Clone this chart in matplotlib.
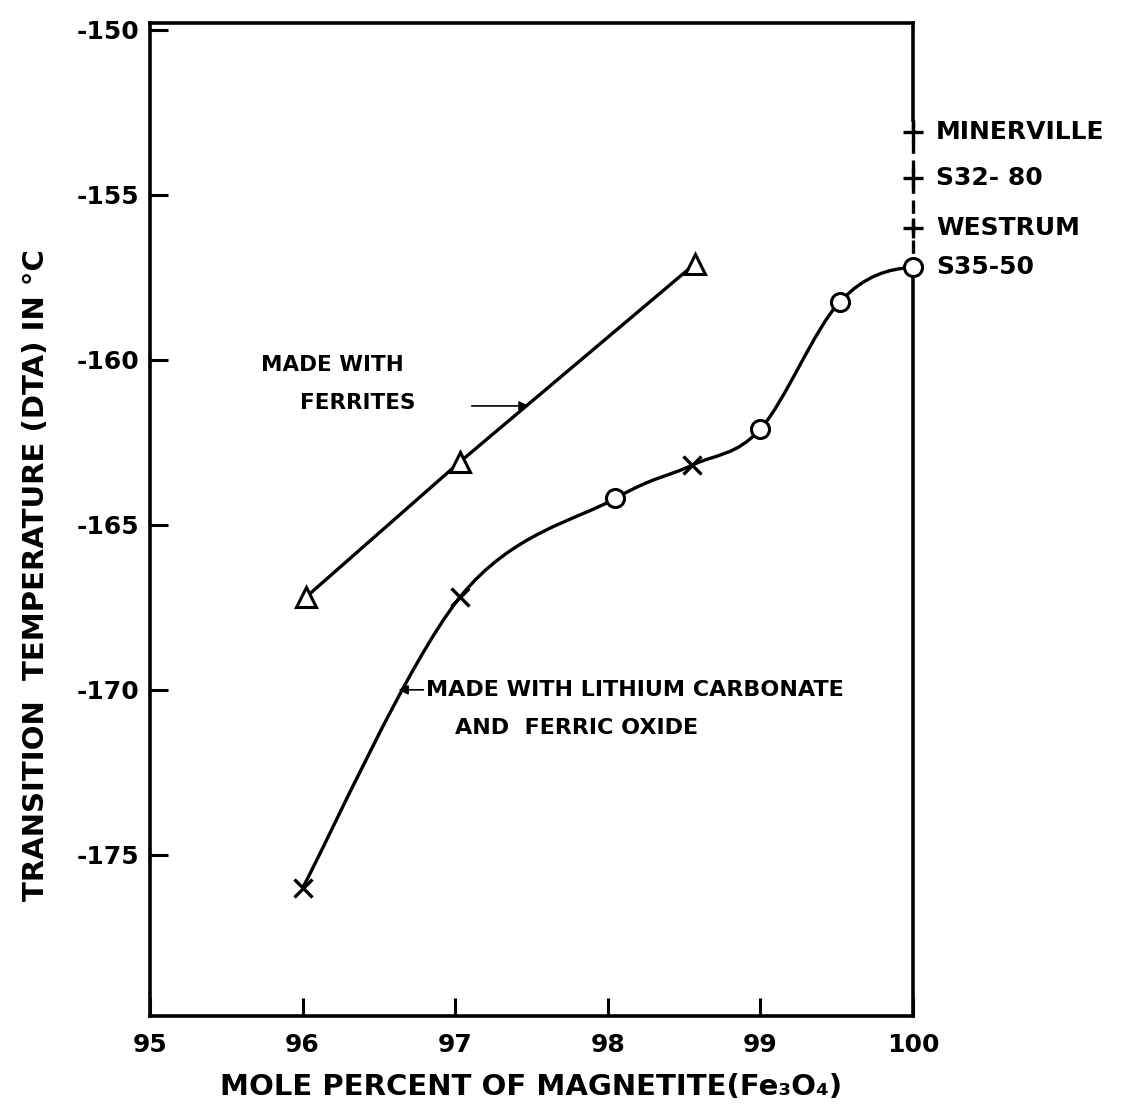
import numpy as np
import matplotlib
matplotlib.use('Agg')
import matplotlib.pyplot as plt
from matplotlib.path import Path
from matplotlib.patches import PathPatch

# data
ferr_x = [96.02, 97.03, 98.57]
ferr_y = [-167.2, -163.1, -157.1]

li_x_cross = [96.0, 97.03, 98.55]
li_y_cross = [-176.0, -167.2, -163.2]
li_x_circ = [98.05, 99.0, 99.52, 100.0]
li_y_circ = [-164.2, -162.1, -158.25, -157.2]

ref_names = ['MINERVILLE', 'S32- 80', 'WESTRUM']
ref_y = [-153.1, -154.5, -156.0]
s35_name = 'S35-50'

xticks = [95, 96, 97, 98, 99, 100]
yticks = [-150, -155, -160, -165, -170, -175]

plt.rcParams['font.family'] = 'DejaVu Sans'
plt.rcParams['font.weight'] = 'bold'
plt.rcParams['axes.labelweight'] = 'bold'

fig = plt.figure(figsize=(11.22, 11.15), dpi=100)
ax = fig.add_axes([0.1337, 0.0888, 0.68, 0.8906])
ax.set_xlim(95, 100)
ax.set_ylim(-179.88, -149.8)

# ferrites line
ax.plot(ferr_x, ferr_y, color='black', lw=2.4, zorder=2)
ax.plot(ferr_x, ferr_y, ls='none', marker='^', ms=15, mfc='white', mec='black', mew=2.2, zorder=3)

# smooth curve through crosses and circles (Catmull-Rom as bezier)
px = np.array(li_x_cross + li_x_circ)
py = np.array(li_y_cross + li_y_circ)
order = np.argsort(px)
pts = np.column_stack([px[order], py[order]])
verts = [pts[0]]
codes = [Path.MOVETO]
n = len(pts)
for i in range(n - 1):
    p0 = pts[max(i - 1, 0)]
    p1 = pts[i]
    p2 = pts[i + 1]
    p3 = pts[min(i + 2, n - 1)]
    c1 = p1 + (p2 - p0) / 6.0
    if i == n - 2:
        c2 = np.array([p2[0] - (p2[0] - p1[0]) / 3.0, p2[1] - 0.05])
    else:
        c2 = p2 - (p3 - p1) / 6.0
    verts += [c1, c2, p2]
    codes += [Path.CURVE4] * 3
ax.add_patch(PathPatch(Path(verts, codes), fill=False, lw=2.4, ec='black', zorder=2))
ax.plot(li_x_cross, li_y_cross, ls='none', marker='x', ms=13, mec='black', mew=2.4, zorder=3)
ax.plot(li_x_circ, li_y_circ, ls='none', marker='o', ms=13, mfc='white', mec='black', mew=2.2,
        zorder=4, clip_on=False)

# right spine: solid, dashed through the reference values, solid again
ax.spines['right'].set_visible(False)
top, bot = ax.get_ylim()[1], ax.get_ylim()[0]
ax.plot([100, 100], [top, max(ref_y) + 0.35], color='black', lw=2.6, clip_on=False, zorder=1)
ax.plot([100, 100], [max(ref_y) + 0.35, li_y_circ[-1]], color='black', lw=2.4,
        ls=(0, (4, 2)), clip_on=False, zorder=1)
ax.plot([100, 100], [li_y_circ[-1], bot], color='black', lw=2.6, clip_on=False, zorder=1)
ax.plot([100] * len(ref_y), ref_y, ls='none', marker='+', ms=15, mew=2.4, color='black',
        clip_on=False, zorder=3)

for name, yv in zip(ref_names + [s35_name], ref_y + [li_y_circ[-1]]):
    ax.text(100.15, yv, name, fontsize=18, va='center', ha='left', clip_on=False)

# annotations
ax.text(95.73, -160.15, 'MADE WITH', fontsize=15.5, va='center', ha='left')
ax.text(95.98, -161.3, 'FERRITES', fontsize=15.5, va='center', ha='left')
ax.annotate('', xy=(97.5, -161.4), xytext=(97.09, -161.4),
            arrowprops=dict(arrowstyle='-|>', color='black', lw=1.2, mutation_scale=14))
ax.text(96.81, -170.0, 'MADE WITH LITHIUM CARBONATE', fontsize=16, va='center', ha='left')
ax.text(97.0, -171.15, 'AND  FERRIC OXIDE', fontsize=16, va='center', ha='left')
ax.annotate('', xy=(96.61, -170.0), xytext=(96.81, -170.0),
            arrowprops=dict(arrowstyle='-|>', color='black', lw=1.2, mutation_scale=14))

# axes styling
for s in ['left', 'bottom', 'top']:
    ax.spines[s].set_linewidth(2.6)
ax.set_xticks(xticks)
ax.set_xticklabels([str(v) for v in xticks])
ax.set_yticks(yticks)
ax.set_yticklabels([str(v) for v in yticks])
ax.tick_params(direction='in', length=13, width=2.2, labelsize=18, top=False, right=False)
ax.tick_params(axis='x', pad=12)
ax.tick_params(axis='y', pad=8)
ax.set_xlabel('MOLE PERCENT OF MAGNETITE(Fe\u2083O\u2084)', fontsize=21, labelpad=12)
ax.set_ylabel('TRANSITION  TEMPERATURE (DTA) IN \u00b0C', fontsize=21)
ax.yaxis.set_label_coords(-0.131, 0.444)

fig.savefig('out.png', dpi=100)
